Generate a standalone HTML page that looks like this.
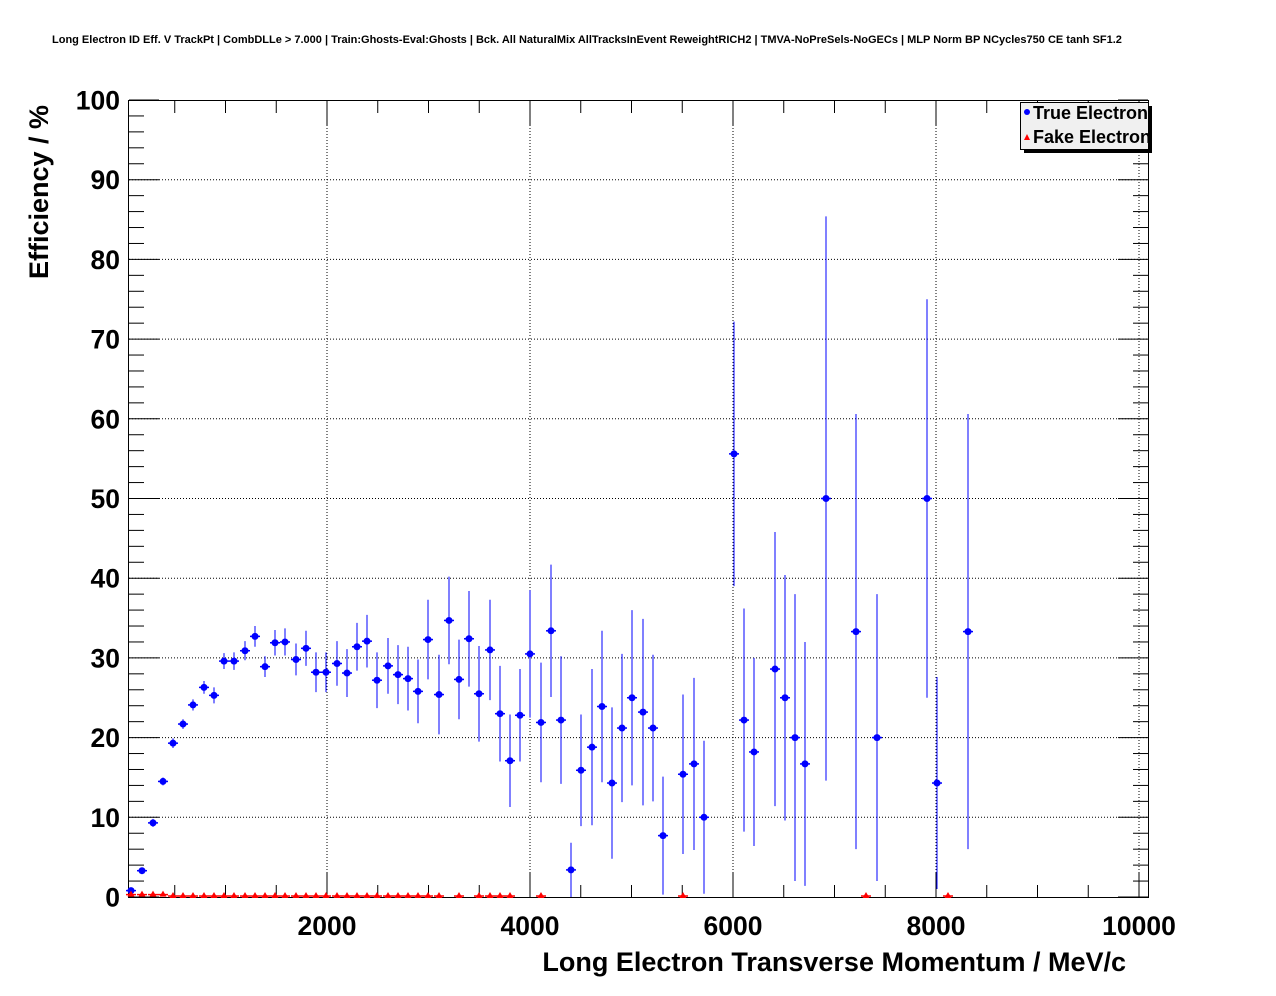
<!DOCTYPE html>
<html><head><meta charset="utf-8"><style>
html,body{margin:0;padding:0;background:#fff;}
svg{display:block;font-family:"Liberation Sans",sans-serif;}
</style></head><body>
<svg id="s" width="1276" height="996" viewBox="0 0 1276 996">
<text x="52" y="43" font-size="11" font-weight="bold">Long Electron ID Eff. V TrackPt | CombDLLe &gt; 7.000 | Train:Ghosts-Eval:Ghosts | Bck. All NaturalMix AllTracksInEvent ReweightRICH2 | TMVA-NoPreSels-NoGECs | MLP Norm BP NCycles750 CE tanh SF1.2</text>
<g id="grid" stroke="#000" stroke-width="1" stroke-dasharray="1,2" fill="none"></g>
<rect x="128.5" y="100.5" width="1020" height="797" fill="none" stroke="#000" stroke-width="1"/>
<g id="ticks" stroke="#000" stroke-width="1"></g>
<g id="labels" font-size="26.5" font-weight="bold"></g>
<g id="data"></g>
<text x="1126" y="971" font-size="27" font-weight="bold" text-anchor="end">Long Electron Transverse Momentum / MeV/c</text>
<text transform="translate(48,279) rotate(-90)" font-size="27" font-weight="bold">Efficiency / %</text>
<rect x="1024" y="106" width="128" height="47" fill="#000"/>
<rect x="1020.5" y="102.5" width="128" height="47" fill="#f0f0f0" stroke="#000"/>
<circle cx="1027" cy="112" r="3" fill="#00f"/>
<text x="1033" y="119" font-size="18" font-weight="bold">True Electron</text>
<polygon points="1024,140 1030,140 1027,134" fill="#f00"/>
<text x="1033" y="143" font-size="18" font-weight="bold">Fake Electron</text>
</svg>
<script>
var NS="http://www.w3.org/2000/svg";
function el(p,t,a){var e=document.createElementNS(NS,t);for(var k in a)e.setAttribute(k,a[k]);p.appendChild(e);return e;}
var g=document.getElementById('grid'),tk=document.getElementById('ticks'),lb=document.getElementById('labels'),d=document.getElementById('data');
function X(v){return 124+v*0.1015;}
function Y(p){return 897-p*7.97;}
for(var v=2000;v<=10000;v+=2000){var x=X(v);el(g,'line',{x1:x,y1:101,x2:x,y2:897});
 var t=el(lb,'text',{x:x,y:935,'text-anchor':'middle'});t.textContent=v;}
for(var v=500;v<=10000;v+=500){var x=X(v);el(tk,'line',{x1:x,y1:897,x2:x,y2:v%2000==0?873:885});el(tk,'line',{x1:x,y1:101,x2:x,y2:v%2000==0?125:113});}
for(var p=0;p<=100;p+=10){var y=Y(p);if(p>0&&p<100)el(g,'line',{x1:129,y1:y,x2:1148,y2:y});
 var t=el(lb,'text',{x:120,y:y+9.5,'text-anchor':'end'});t.textContent=p;}
for(var p=0;p<=100;p+=2){var y=Y(p);var L=p%10==0?30:15;el(tk,'line',{x1:129,y1:y,x2:129+L,y2:y});el(tk,'line',{x1:1148,y1:y,x2:1148-L,y2:y});}
var T=[[131,0.8,.3],[142,3.3,.4],[153,9.3,.5],[163,14.5,.5],[173,19.3,.6],[183,21.7,.6],[193,24.1,.7],[204,26.3,.8],[214,25.3,1],[224,29.6,1],[234,29.6,1.1],[245,30.9,1.2],[255,32.7,1.3],[265,28.9,1.3],[275,31.9,1.6],[285,32,1.7],[296,29.8,2],[306,31.2,2.2],[316,28.2,2.5],[326,28.2,2.5],[337,29.3,2.8],[347,28.1,3],[357,31.4,3],[367,32.1,3.3],[377,27.2,3.5],[388,29,3.5],[398,27.9,3.7],[408,27.4,4],[418,25.8,4],[428,32.3,5],[439,25.4,5],[449,34.7,5.5],[459,27.3,5],[469,32.4,6],[479,25.5,6],[490,31,6.3],[500,23,6],[510,17.1,5.8],[520,22.8,5.8],[530,30.5,8],[541,21.9,7.5],[551,33.4,8.3],[561,22.2,8],[571,3.4,3.4],[581,15.9,7],[592,18.8,9.8],[602,23.9,9.5],[612,14.3,9.5],[622,21.2,9.3],[632,25,11],[643,23.2,11.7],[653,21.2,9.2],[663,7.7,7.4],[683,15.4,10],[694,16.7,10.8],[704,10,9.6],[734,55.6,16.6],[744,22.2,14],[754,18.2,11.8],[775,28.6,17.2],[785,25,15.4],[795,20,18],[805,16.7,15.3],[826,50,35.4],[856,33.3,27.3],[877,20,18],[927,50,25],[937,14.3,13.3],[968,33.3,27.3]];
var F=[131,142,153,163,173,183,193,204,214,224,234,245,255,265,275,285,296,306,316,326,337,347,357,367,377,388,398,408,418,428,439,459,479,490,500,510,541,683,866,948];
F.forEach(function(x,i){var y=i<4?Y(0.3):896;el(d,'line',{x1:x-5,y1:y,x2:x+5,y2:y,stroke:'#f00','stroke-width':1.5});});
T.forEach(function(a){var x=a[0],y=Y(a[1]);el(d,'line',{x1:x,y1:Y(a[1]+a[2]),x2:x,y2:Math.min(897,Y(a[1]-a[2])),stroke:'#00f','stroke-width':1});
 el(d,'line',{x1:x-5,y1:y,x2:x+5,y2:y,stroke:'#00f','stroke-width':1.5});el(d,'circle',{cx:x,cy:y,r:3.5,fill:'#00f'});});
F.forEach(function(x,i){var y=i<4?Y(0.3):896;el(d,'polygon',{points:(x-3.5)+','+(y+2)+' '+(x+3.5)+','+(y+2)+' '+x+','+(y-4),fill:'#f00'});});
</script>
</body></html>
